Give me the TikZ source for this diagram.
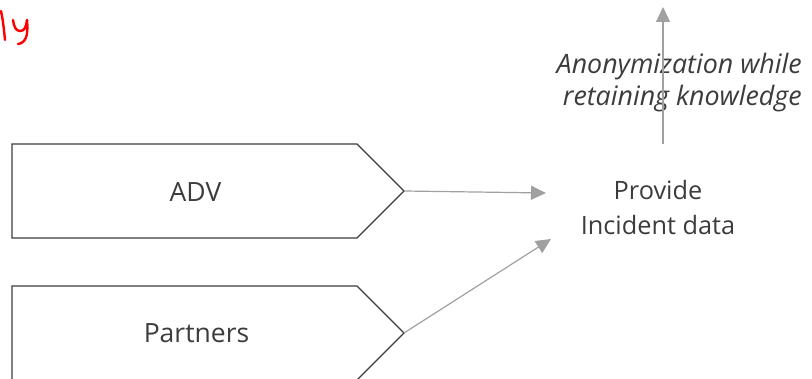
\documentclass[tikz,border=0pt]{standalone}
\usepackage{fontspec}
\setmainfont{Open Sans}
\usetikzlibrary{arrows.meta}
\definecolor{txt}{HTML}{3C3C3C}
\definecolor{arrgrey}{HTML}{A0A0A0}
\definecolor{ink}{HTML}{FF0000}
\tikzset{
  boxline/.style={draw=txt, line width=1.4pt, line join=miter},
  lbl/.style={text=txt, font=\fontsize{26.5}{35}\selectfont, inner sep=0pt},
  lblsmall/.style={text=txt, font=\fontsize{25.3}{35}\selectfont, inner sep=0pt, align=center},
  itl/.style={text=txt, font=\fontsize{26.8}{32}\selectfont\itshape, inner sep=0pt, align=right},
  arr/.style={draw=arrgrey, line width=1.2pt, -{Triangle[length=15pt,width=14pt]}},
  hand/.style={draw=ink, line width=2.4pt, line cap=round, line join=round}
}
\begin{document}
\begin{tikzpicture}[x=1pt,y=-1pt]
\useasboundingbox (0,0) rectangle (812,379);
% handwriting fragment
\draw[hand] (1,11) .. controls (3,20) and (4,30) .. (5,40);
\draw[hand] (13,20) .. controls (14,27) and (16,31) .. (20,31) .. controls (24,31) and (26,28) .. (27,20);
\draw[hand] (27,20) .. controls (28,30) and (27,38) .. (24,41) .. controls (22,43) and (20,44) .. (18,44);
% boxes
\draw[boxline] (12,144) -- (357,144) -- (404,191) -- (357,238) -- (12,238) -- cycle;
\coordinate (advtip) at (404,191);
\node[lbl, anchor=base] (adv) at (195.5,202) {ADV};
\draw[boxline] (12,286) -- (357,286) -- (404,333) -- (357,380) -- (12,380) -- cycle;
\coordinate (parttip) at (404,333);
\node[lbl, anchor=base] (partners) at (196.5,343) {Partners};
% target
\node[lblsmall] (provide) at (658,208) {Provide\\Incident data};
\coordinate (in1) at (546,193);
\coordinate (in2) at (551,239);
\draw[arr] (advtip) -- (in1);
\draw[arr] (parttip) -- (in2);
% anonymization
\node[itl, anchor=east] (anon) at (802,83) {Anonymization while\\retaining knowledge};
\coordinate (upstart) at (663,144);
\coordinate (upend) at (663,7);
\draw[arr] (upstart) -- (upend);
\end{tikzpicture}
\end{document}
